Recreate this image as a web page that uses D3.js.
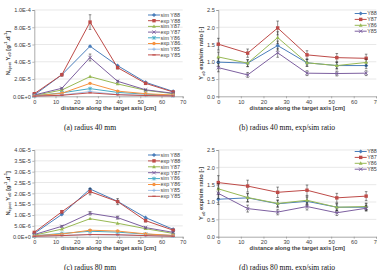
<!DOCTYPE html>
<html><head><meta charset="utf-8">
<script src="https://cdn.jsdelivr.net/npm/d3@7"></script>
<style>
html,body{margin:0;padding:0;background:#fff;}
svg{display:block;font-family:"Liberation Sans",Arial,sans-serif;}
</style></head>
<body><svg id="c" width="377" height="270"></svg>
<script>
// ---------- data ----------
const distance = [0, 13, 26.3, 39.3, 52.5, 65.5];
const xTicks = [0, 10, 20, 30, 40, 50, 60, 70];

// radius 40 mm: N*Y [g^-1 d^-1]
const simY88_40 = [1.5e-6, 2.5e-5, 5.8e-5, 3.55e-5, 1.62e-5, 5.6e-6];
const expY88_40 = [3.0e-6, 2.5e-5, 8.6e-5, 3.32e-5, 1.5e-5, 5.0e-6];
const expY88_40err = [3e-7, 1.5e-6, 8.5e-6, 1.5e-6, 1.0e-6, 5e-7];
const simY87_40 = [1.0e-6, 7.3e-6, 2.28e-5, 1.43e-5, 7.0e-6, 3.0e-6];
const expY87_40 = [1.5e-6, 9.3e-6, 4.5e-5, 1.74e-5, 7.5e-6, 3.5e-6];
const expY87_40err = [2e-7, 8e-7, 4e-6, 1e-6, 6e-7, 3e-7];
const simY86_40 = [5e-7, 4.0e-6, 8.9e-6, 4.5e-6, 2.5e-6, 1.0e-6];
const expY86_40 = [5e-7, 3.5e-6, 1.5e-5, 6.0e-6, 3.0e-6, 1.5e-6];
const simY85_40 = [2e-7, 1.5e-6, 5.5e-6, 2.0e-6, 1.0e-6, 5e-7];
const expY85_40 = [2e-7, 1.2e-6, 4.0e-6, 1.8e-6, 9e-7, 4e-7];

// radius 80 mm
const simY88_80 = [1.5e-6, 1.03e-5, 2.2e-5, 1.63e-5, 8.8e-6, 3.4e-6];
const expY88_80 = [2.0e-6, 1.15e-5, 2.08e-5, 1.62e-5, 7.4e-6, 3.0e-6];
const expY88_80err = [2e-7, 6e-7, 1.5e-6, 1.4e-6, 6e-7, 3e-7];
const simY87_80 = [7e-7, 3.5e-6, 8.3e-6, 6.2e-6, 3.7e-6, 1.5e-6];
const expY87_80 = [1.0e-6, 4.8e-6, 1.08e-5, 8.8e-6, 4.2e-6, 2.0e-6];
const expY87_80err = [1e-7, 4e-7, 8e-7, 7e-7, 3e-7, 2e-7];
const simY86_80 = [4e-7, 1.5e-6, 2.5e-6, 2.1e-6, 1.2e-6, 5e-7];
const expY86_80 = [4e-7, 1.2e-6, 3.0e-6, 2.6e-6, 1.3e-6, 6e-7];
const simY85_80 = [2e-7, 6e-7, 1.0e-6, 8e-7, 5e-7, 2e-7];
const expY85_80 = [2e-7, 5e-7, 1.0e-6, 9e-7, 5e-7, 2e-7];

// exp/sim ratios, radius 40 mm
const ratioY88_40 = [0.99, 0.96, 1.47, 0.97, 0.89, 0.89];
const ratioY87_40 = [1.51, 1.25, 1.98, 1.20, 1.12, 1.10];
const ratioY86_40 = [1.14, 0.96, 1.70, 0.97, 0.89, 0.98];
const ratioY85_40 = [0.83, 0.62, 1.26, 0.67, 0.66, 0.67];
const ratioY88_40err = [0.12, 0.10, 0.13, 0.10, 0.09, 0.09];
const ratioY87_40err = [0.17, 0.12, 0.20, 0.12, 0.12, 0.12];
const ratioY86_40err = [0.14, 0.10, 0.17, 0.10, 0.10, 0.10];
const ratioY85_40err = [0.12, 0.07, 0.13, 0.07, 0.07, 0.07];

// exp/sim ratios, radius 80 mm
const ratioY88_80 = [1.08, 1.12, 0.95, 1.02, 0.85, 0.85];
const ratioY87_80 = [1.56, 1.46, 1.28, 1.34, 1.12, 1.17];
const ratioY86_80 = [1.38, 1.13, 0.96, 1.05, 0.85, 0.87];
const ratioY85_80 = [1.25, 0.81, 0.71, 0.87, 0.69, 0.82];
const ratioY88_80err = [0.15, 0.12, 0.10, 0.12, 0.10, 0.10];
const ratioY87_80err = [0.20, 0.17, 0.15, 0.15, 0.13, 0.13];
const ratioY86_80err = [0.15, 0.12, 0.10, 0.12, 0.10, 0.10];
const ratioY85_80err = [0.15, 0.10, 0.08, 0.10, 0.08, 0.08];

const yieldTicks40 = [0, 2e-5, 4e-5, 6e-5, 8e-5, 1e-4];
const yieldTicks80 = [0, 5e-6, 1e-5, 1.5e-5, 2e-5, 2.5e-5, 3e-5, 3.5e-5, 4e-5];
const ratioTicks = [0, 0.5, 1.0, 1.5, 2.0, 2.5];

// ---------- styles ----------
const C = {blue:"#4A7EBB", red:"#BE4B48", green:"#98B954", purple:"#7D60A0",
           aqua:"#46AAC5", orange:"#F69240", lblue:"#8DB3E2", dred:"#C0504D"};

const svg = d3.select("#c");

function sci(v){
  if (v === 0) return "0.0E+0";
  let e = Math.floor(Math.log10(v) + 1e-9);
  let m = v / Math.pow(10, e);
  return m.toFixed(1) + "E" + (e < 0 ? "-" : "+") + Math.abs(e);
}

function marker(g, type, x, y, color){
  const s = 1.7;
  if (type === "diamond"){
    g.append("path").attr("d", `M${x},${y-s-0.4}L${x+s+0.4},${y}L${x},${y+s+0.4}L${x-s-0.4},${y}Z`).attr("fill", color);
  } else if (type === "square"){
    g.append("rect").attr("x", x-s).attr("y", y-s).attr("width", 2*s).attr("height", 2*s).attr("fill", color);
  } else if (type === "triangle"){
    g.append("path").attr("d", `M${x},${y-s-0.3}L${x+s+0.2},${y+s-0.3}L${x-s-0.2},${y+s-0.3}Z`).attr("fill", color);
  } else if (type === "x"){
    g.append("path").attr("d", `M${x-s},${y-s}L${x+s},${y+s}M${x-s},${y+s}L${x+s},${y-s}`).attr("stroke", color).attr("stroke-width", 0.9);
  } else if (type === "star"){
    g.append("path").attr("d", `M${x-s},${y-s}L${x+s},${y+s}M${x-s},${y+s}L${x+s},${y-s}M${x},${y-s-0.3}L${x},${y+s+0.3}`).attr("stroke", color).attr("stroke-width", 0.9);
  } else if (type === "circle"){
    g.append("circle").attr("cx", x).attr("cy", y).attr("r", s).attr("fill", color);
  } else if (type === "plus"){
    g.append("path").attr("d", `M${x-s},${y}L${x+s},${y}M${x},${y-s}L${x},${y+s}`).attr("stroke", color).attr("stroke-width", 0.9);
  } else if (type === "dash"){
    g.append("path").attr("d", `M${x-s},${y}L${x+s},${y}`).attr("stroke", color).attr("stroke-width", 1.2);
  }
}

function panel(o){
  const g = svg.append("g");
  const x = d3.scaleLinear().domain([0, 70]).range([o.left, o.right]);
  const y = d3.scaleLinear().domain([o.yTicks[0], o.yTicks[o.yTicks.length-1]]).range([o.bottom, o.top]);

  // gridlines
  g.append("g").selectAll("line").data(o.yTicks.slice(1)).join("line")
    .attr("x1", o.left).attr("x2", o.right)
    .attr("y1", d => y(d)).attr("y2", d => y(d))
    .attr("stroke", "#d9d9d9").attr("stroke-width", 0.6);

  // axes
  const ya = g.append("g").attr("transform", `translate(${o.left},0)`)
    .call(d3.axisLeft(y).tickValues(o.yTicks).tickFormat(o.fmt).tickSize(2).tickPadding(1.5));
  const xa = g.append("g").attr("transform", `translate(0,${o.bottom})`)
    .call(d3.axisBottom(x).tickValues(xTicks).tickFormat(d3.format("d")).tickSize(2).tickPadding(1.5));
  [ya, xa].forEach(a => {
    a.select(".domain").attr("stroke", "#868686").attr("stroke-width", 0.7);
    a.selectAll(".tick line").attr("stroke", "#868686").attr("stroke-width", 0.6);
    a.selectAll("text").attr("font-size", 5.6).attr("fill", "#404040")
      .attr("font-family", '"Liberation Sans",Arial,sans-serif');
  });

  // series
  o.series.forEach(s => {
    const pts = distance.map((d, i) => [x(d), y(s.values[i])]);
    g.append("path").attr("d", d3.line()(pts)).attr("fill", "none")
      .attr("stroke", s.color).attr("stroke-width", s.width || 1);
    if (s.err){
      distance.forEach((d, i) => {
        const xp = x(d), y1 = y(s.values[i] + s.err[i]), y2 = y(s.values[i] - s.err[i]);
        g.append("path").attr("d", `M${xp},${y1}L${xp},${y2}M${xp-1.3},${y1}L${xp+1.3},${y1}M${xp-1.3},${y2}L${xp+1.3},${y2}`)
          .attr("stroke", "#222").attr("stroke-width", 0.5).attr("fill", "none");
      });
    }
    pts.forEach(p => marker(g, s.marker, p[0], p[1], s.color));
  });

  // legend
  const lg = g.append("g");
  o.series.forEach((s, i) => {
    const ly = o.legY + i * o.legStep;
    lg.append("line").attr("x1", o.legX).attr("x2", o.legX + 12).attr("y1", ly).attr("y2", ly)
      .attr("stroke", s.color).attr("stroke-width", s.width || 1);
    marker(lg, s.marker, o.legX + 6, ly, s.color);
    lg.append("text").attr("x", o.legX + 12.5).attr("y", ly).attr("dy", "0.35em")
      .attr("font-size", 5.4).attr("fill", "#404040").text(s.name);
  });

  // x title
  g.append("text").attr("x", (o.left + o.right) / 2 + o.xtOff).attr("y", o.bottom + 13.5)
    .attr("text-anchor", "middle").attr("font-size", 5.8).attr("font-weight", "bold").attr("fill", "#404040")
    .text("distance along the target axis [cm]");

  // y title
  const yt = g.append("text").attr("transform", `translate(${o.ytX},${(o.top + o.bottom) / 2}) rotate(-90)`)
    .attr("text-anchor", "middle").attr("font-size", 5.8).attr("font-weight", "bold").attr("fill", "#404040");
  o.yTitle.forEach(p => {
    const t = yt.append("tspan").text(p[0]);
    if (p[1] === "sub") t.attr("font-size", 4).attr("dy", 1.5);
    if (p[1] === "sup") t.attr("font-size", 4).attr("dy", -2.2);
    if (p[1] === "up") t.attr("dy", -1.5);
    if (p[1] === "down") t.attr("dy", 2.2);
  });

  // caption
  g.append("text").attr("x", o.capX).attr("y", o.capY).attr("text-anchor", "middle")
    .attr("font-family", '"Liberation Serif","Times New Roman",serif').attr("font-size", 7.6).attr("fill", "#111")
    .text(o.caption);
}

const yieldTitle = [["N"], ["eject", "sub"], [" Y", "up"], ["e0", "sub"], [" [g", "up"], ["-1", "sup"], [".d", "down"], ["-1", "sup"], ["]", "down"]];
const ratioTitle = [["Y"], ["e0", "sub"], [" exp/sim ratio [-]", "up"]];

function yieldSeries(a){
  return [
    {name:"sim Y88", values:a[0], color:C.blue, marker:"diamond"},
    {name:"exp Y88", values:a[1], err:a[2], color:C.red, marker:"square"},
    {name:"sim Y87", values:a[3], color:C.green, marker:"triangle"},
    {name:"exp Y87", values:a[4], err:a[5], color:C.purple, marker:"x"},
    {name:"sim Y86", values:a[6], color:C.aqua, marker:"star"},
    {name:"exp Y86", values:a[7], color:C.orange, marker:"circle"},
    {name:"sim Y85", values:a[8], color:C.lblue, marker:"plus", width:0.8},
    {name:"exp Y85", values:a[9], color:C.dred, marker:"dash"}
  ];
}
function ratioSeries(a){
  return [
    {name:"Y88", values:a[0], err:a[1], color:C.blue, marker:"diamond"},
    {name:"Y87", values:a[2], err:a[3], color:C.red, marker:"square"},
    {name:"Y86", values:a[4], err:a[5], color:C.green, marker:"triangle"},
    {name:"Y85", values:a[6], err:a[7], color:C.purple, marker:"x"}
  ];
}

panel({left:34.3, right:182.7, top:10, bottom:96.3, yTicks:yieldTicks40, fmt:sci,
  series: yieldSeries([simY88_40, expY88_40, expY88_40err, simY87_40, expY87_40, expY87_40err, simY86_40, expY86_40, simY85_40, expY85_40]),
  legX:148, legY:15, legStep:5.7, yTitle:yieldTitle, ytX:9.5, xtOff:0,
  caption:"(a) radius 40 mm", capX:90, capY:130});

panel({left:218.3, right:376.3, top:10, bottom:96.3, yTicks:ratioTicks, fmt:d3.format(".1f"),
  series: ratioSeries([ratioY88_40, ratioY88_40err, ratioY87_40, ratioY87_40err, ratioY86_40, ratioY86_40err, ratioY85_40, ratioY85_40err]),
  legX:354.7, legY:13.5, legStep:5.9, yTitle:ratioTitle, ytX:203, xtOff:0,
  caption:"(b) radius 40 mm, exp/sim ratio", capX:287, capY:130});

panel({left:34.3, right:182.7, top:150, bottom:236.7, yTicks:yieldTicks80, fmt:sci,
  series: yieldSeries([simY88_80, expY88_80, expY88_80err, simY87_80, expY87_80, expY87_80err, simY86_80, expY86_80, simY85_80, expY85_80]),
  legX:148, legY:155, legStep:5.9, yTitle:yieldTitle, ytX:9.5, xtOff:0,
  caption:"(c) radius 80 mm", capX:90, capY:270});

panel({left:218.3, right:376.3, top:150, bottom:236.7, yTicks:ratioTicks, fmt:d3.format(".1f"),
  series: ratioSeries([ratioY88_80, ratioY88_80err, ratioY87_80, ratioY87_80err, ratioY86_80, ratioY86_80err, ratioY85_80, ratioY85_80err]),
  legX:354.7, legY:151.5, legStep:5.9, yTitle:ratioTitle, ytX:203, xtOff:0,
  caption:"(d) radius 80 mm, exp/sim ratio", capX:287, capY:270});
</script>
</body></html>
